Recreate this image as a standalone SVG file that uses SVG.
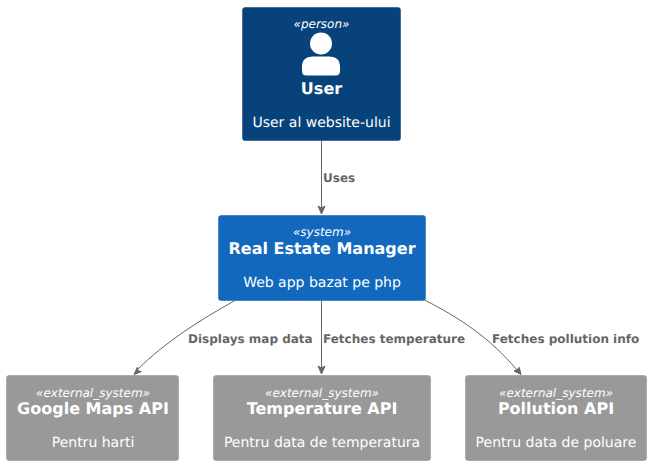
<svg xmlns="http://www.w3.org/2000/svg" width="651" height="465" viewBox="0 0 651 465">
<style>
text{font-family:"DejaVu Sans",sans-serif;text-anchor:middle;fill:#FFFFFF;text-rendering:geometricPrecision}
.st{font-size:12px;font-style:italic}
.ti{font-size:16px;font-weight:bold}
.de{font-size:14px}
.lb{font-size:12px;font-weight:bold;fill:#666666;text-anchor:start}
.c{fill:none;stroke:#666666;stroke-width:1}
.h{fill:#666666;stroke:#666666;stroke-width:1;stroke-linejoin:miter}
.ext{fill:#999999;stroke:#8A8A8A;stroke-width:.5}
</style>
<rect width="651" height="465" fill="#FFFFFF"/>
<g id="connectors">
<path class="c" d="M321.500,140.500 V209"/><polygon class="h" points="321.500,214 318,206 321.500,208 325,206"/>
<path class="c" d="M321.500,300.500 V369"/><polygon class="h" points="321.500,374 318,366 321.500,368 325,366"/>
<path class="c" d="M235,300.500 C200,320 165,342 137,370"/><polygon class="h" points="134,374.500 137.300,367.300 138,370.700 141.300,371.600"/>
<path class="c" d="M424.500,300 C460,318 490,338 517,370"/><polygon class="h" points="521,374.500 514,371 517,369.800 519.300,367.300"/>
<text class="lb" x="323" y="182">Uses</text>
<text class="lb" x="188" y="343">Displays map data</text>
<text class="lb" x="323" y="343">Fetches temperature</text>
<text class="lb" x="492" y="343">Fetches pollution info</text>
</g>
<g id="user">
<rect x="242.500" y="7.500" width="158" height="133" rx="2.500" fill="#08427B" stroke="#073B6F" stroke-width=".5"/>
<text class="st" x="321.500" y="28">«person»</text>
<circle cx="321" cy="43.500" r="11" fill="#FFFFFF"/>
<path d="M302,71 V67 Q302,56.500 313,56.500 H329 Q340,56.500 340,67 V71 Q340,75.500 335.500,75.500 H306.500 Q302,75.500 302,71Z" fill="#FFFFFF"/>
<text class="ti" x="321.500" y="94">User</text>
<text class="de" x="321.500" y="127">User al website-ului</text>
</g>
<g id="real-estate-manager">
<rect x="218.500" y="215.500" width="207" height="85" rx="2.500" fill="#1168BD" stroke="#0F5EAA" stroke-width=".5"/>
<text class="st" x="322" y="236">«system»</text>
<text class="ti" x="322" y="254">Real Estate Manager</text>
<text class="de" x="322" y="287">Web app bazat pe php</text>
</g>
<g id="google-maps-api">
<rect class="ext" x="6.500" y="375.500" width="172" height="85" rx="2.500"/>
<text class="st" x="93" y="397">«external_system»</text>
<text class="ti" x="93" y="414">Google Maps API</text>
<text class="de" x="93" y="447">Pentru harti</text>
</g>
<g id="temperature-api">
<rect class="ext" x="213.500" y="375.500" width="217" height="85" rx="2.500"/>
<text class="st" x="322" y="397">«external_system»</text>
<text class="ti" x="322" y="414">Temperature API</text>
<text class="de" x="322" y="447">Pentru data de temperatura</text>
</g>
<g id="pollution-api">
<rect class="ext" x="465.500" y="375.500" width="181" height="85" rx="2.500"/>
<text class="st" x="556" y="397">«external_system»</text>
<text class="ti" x="556" y="414">Pollution API</text>
<text class="de" x="556" y="447">Pentru data de poluare</text>
</g>
</svg>
